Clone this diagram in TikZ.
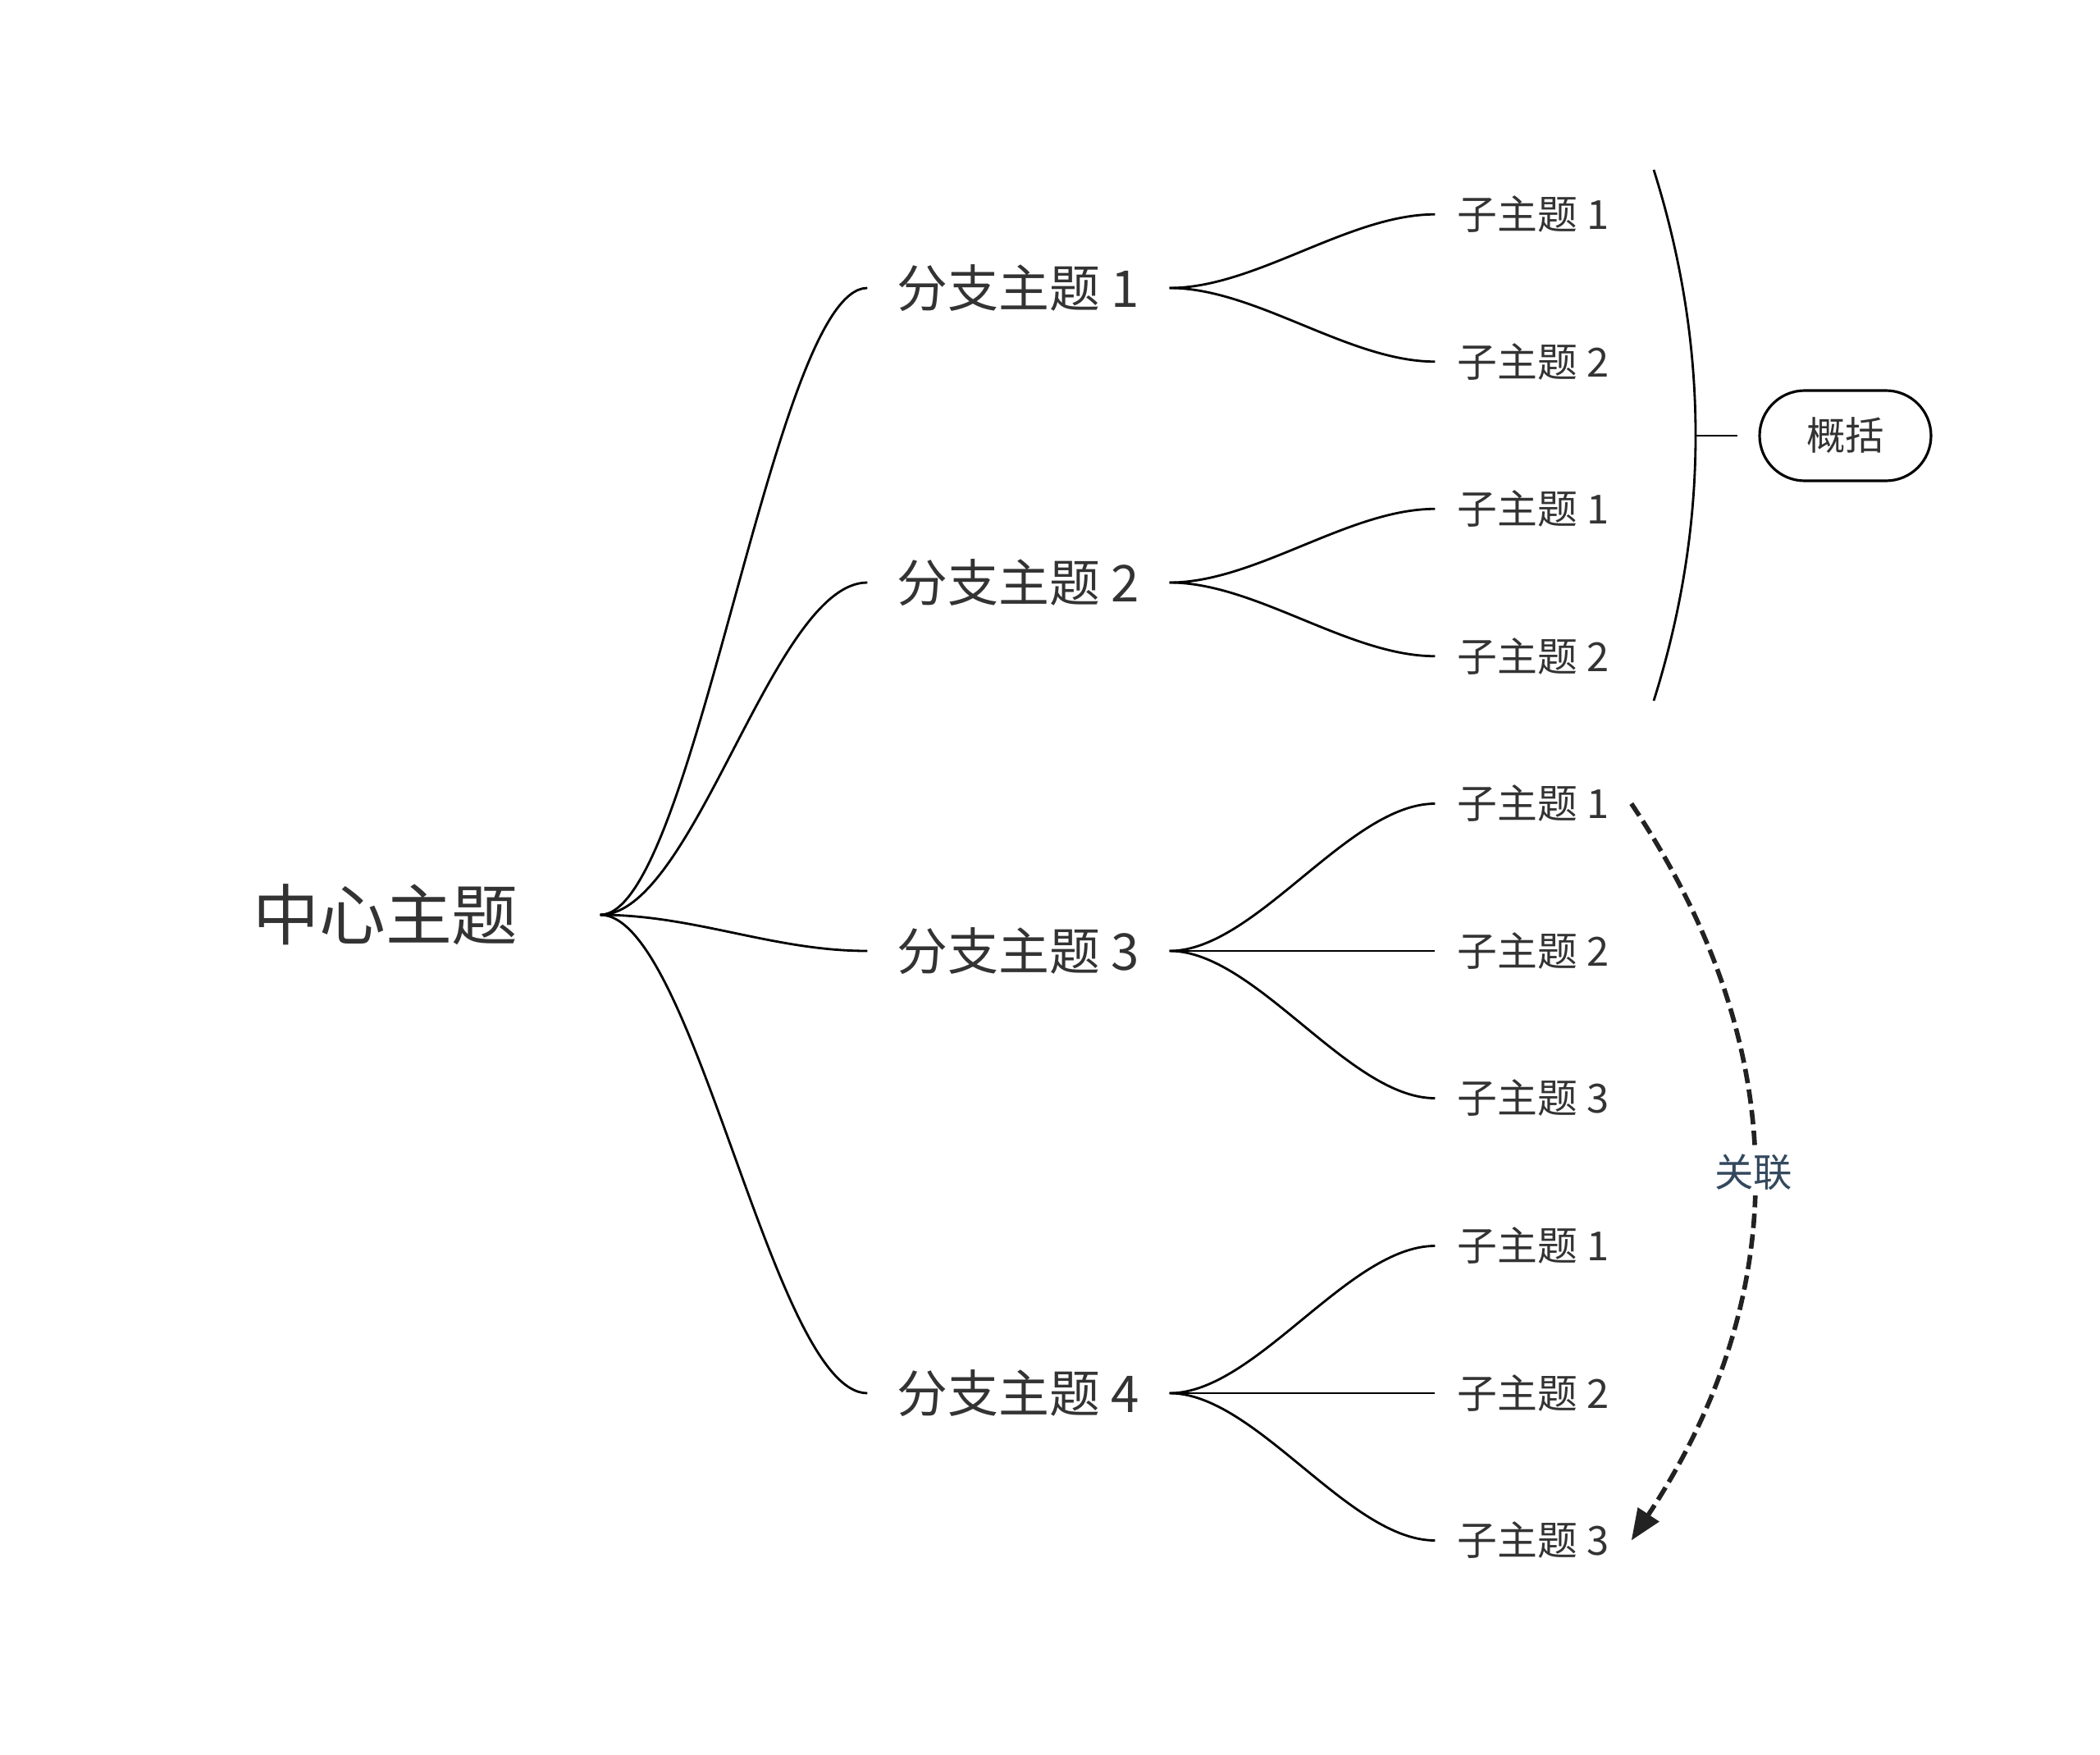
\documentclass[tikz,border=0pt]{standalone}
\usepackage{fontspec}
\setmainfont{Noto Sans CJK SC}
\usetikzlibrary{arrows.meta}
\definecolor{txt}{HTML}{333333}
\definecolor{rel}{HTML}{34495E}
\definecolor{dash}{HTML}{222222}

\begin{document}
\begin{tikzpicture}[
  grow'=right, level distance=6.275cm, sibling distance=1.795cm,
  root/.style={minimum width=5.22cm,inner sep=0pt,text=txt,
    font=\fontsize{23pt}{27pt}\selectfont},
  topic/.style={minimum width=3.67cm,inner sep=0pt,text=txt,
    font=\fontsize{17.6pt}{21pt}\selectfont},
  leaf/.style={minimum width=2.38cm,inner sep=0pt,text=txt,
    font=\fontsize{13.9pt}{17pt}\selectfont},
  link/.style={line width=0.8pt},
  edge from parent/.style={draw,line width=0.8pt},
  edge from parent path={(\tikzparentnode.east) .. controls +(1.05,0)
    and +(-1.05,0) .. (\tikzchildnode.west)},
  summary/.style={draw,line width=0.9pt,rounded corners=0.55cm,
    minimum width=2.09cm,minimum height=1.1cm,text=txt,
    font=\fontsize{13.5pt}{16pt}\selectfont},
  relation/.style={draw=dash,line width=1.6pt,dash pattern=on 5pt off 2.2pt,
    -{Triangle[length=0.38cm,width=0.3cm,fill=dash]}}]
\useasboundingbox (0,0) rectangle (25.6,-21.39);

\node[root] (root) at (4.70,-11.15) {中心主题};

\node[topic] (b1) at (12.415,-3.51) {分支主题 1}
  child {node[leaf] {子主题 1}}
  child {node[leaf] {子主题 2}};
\node[topic] (b2) at (12.415,-7.10) {分支主题 2}
  child {node[leaf] {子主题 1}}
  child {node[leaf] {子主题 2}};
\node[topic] (b3) at (12.415,-11.59) {分支主题 3}
  child {node[leaf] {子主题 1}}
  child {node[leaf] {子主题 2}}
  child {node[leaf] {子主题 3}};
\node[topic] (b4) at (12.415,-16.98) {分支主题 4}
  child {node[leaf] {子主题 1}}
  child {node[leaf] {子主题 2}}
  child {node[leaf] {子主题 3}};

\foreach \b in {b1,b2,b3,b4}
  \draw[link] (root.east) .. controls +(1.15,0) and +(-1.15,0) .. (\b.west);

% summary bracket
\coordinate (sumtop) at (20.16,-2.07);
\coordinate (sumbot) at (20.16,-8.54);
\coordinate (summid) at (20.67,-5.31);
\coordinate (sumtip) at (21.18,-5.31);
\draw[link] (sumtop) .. controls (20.84,-4.23) and (20.84,-6.38) .. (sumbot);
\draw[link] (summid) -- (sumtip);
\node[summary] (sum) at (22.495,-5.31) {概括};

% relation
\draw[relation] (b3-1.east) .. controls +(2.0,-2.98) and +(1.97,2.98) ..
  node[fill=white,text=rel,inner sep=2pt,
    font=\fontsize{13.5pt}{16pt}\selectfont] (rellabel) {关联} (b4-3.east);
\end{tikzpicture}
\end{document}
